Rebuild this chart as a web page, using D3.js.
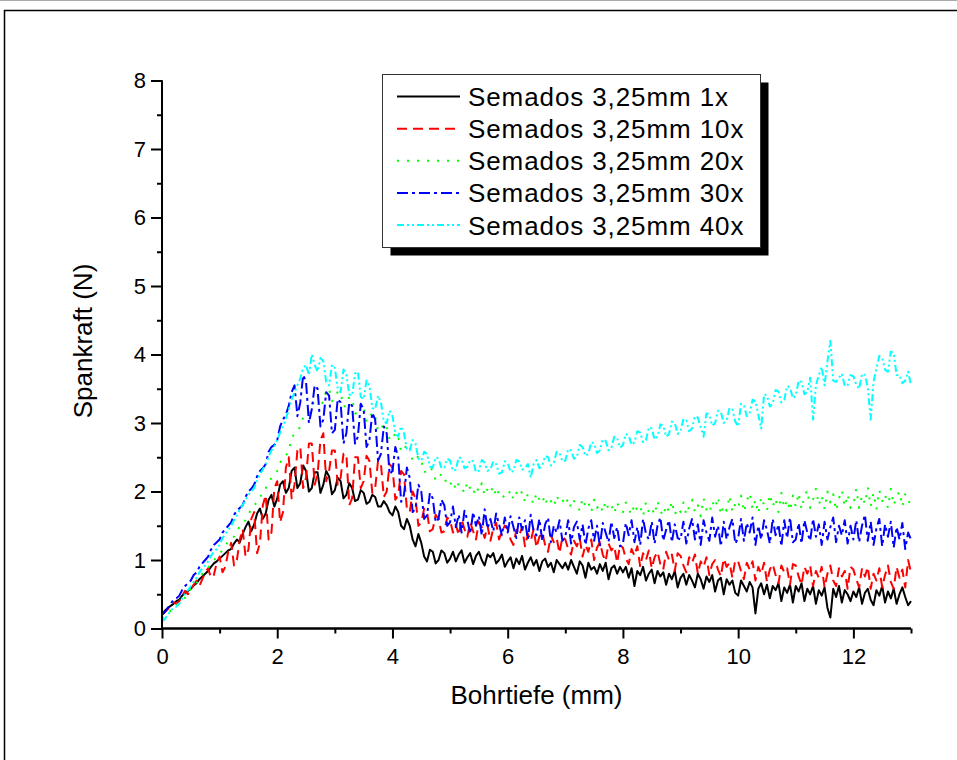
<!DOCTYPE html>
<html>
<head>
<meta charset="utf-8">
<script src="https://cdn.jsdelivr.net/npm/d3@7"></script>
<style>
  html, body { margin: 0; padding: 0; background: #fff; }
  svg { display: block; }
  text { font-family: "Liberation Sans", Arial, sans-serif; fill: #000; }
</style>
</head>
<body>
<svg id="chart" width="957" height="760"></svg>
<script>
// Drilling depth sampling (mm) and cutting force readings (N), one row per millimetre
const depthStep = 0.05;
const depthMax = 13;

const force1x = [
  0.20,0.26,0.30,0.33,0.36,0.40,0.42,0.48,0.52,0.55,0.58,0.63,0.66,0.72,0.76,0.80,0.84,0.90,0.95,0.98,
  1.02,1.06,1.10,1.14,1.16,1.24,1.30,1.26,1.38,1.48,1.56,1.42,1.52,1.68,1.75,1.60,1.68,1.88,1.95,1.78,
  1.90,2.10,2.15,1.98,2.05,2.30,2.35,2.05,2.12,2.38,2.30,2.00,2.05,2.28,2.28,1.98,2.10,2.30,2.22,1.96,
  2.02,2.20,2.15,1.90,1.95,2.12,2.05,1.86,1.88,2.02,1.98,1.82,1.85,1.95,1.92,1.78,1.78,1.86,1.80,1.70,
  1.65,1.78,1.70,1.50,1.45,1.60,1.50,1.30,1.20,1.38,1.25,1.05,0.98,1.15,1.12,0.95,1.00,1.14,1.10,0.96,
  1.02,1.12,0.98,1.08,1.14,0.96,1.04,1.10,0.94,1.06,1.12,1.00,0.92,1.08,1.04,1.10,0.95,1.00,1.08,0.90,
  0.98,1.04,0.88,1.02,0.94,1.06,0.86,0.96,1.04,0.92,1.00,0.84,0.98,1.02,0.90,0.96,0.82,1.00,0.94,0.88,
  0.96,0.86,1.00,0.90,0.80,0.98,0.92,0.74,0.96,0.86,0.90,0.80,0.94,0.84,0.96,0.72,0.88,0.92,0.80,0.90,
  0.82,0.90,0.74,0.88,0.62,0.84,0.78,0.90,0.70,0.80,0.86,0.66,0.84,0.76,0.82,0.64,0.80,0.72,0.84,0.60,
  0.74,0.80,0.64,0.78,0.70,0.60,0.80,0.72,0.58,0.76,0.68,0.78,0.54,0.70,0.74,0.50,0.72,0.64,0.70,0.52,
  0.48,0.70,0.62,0.54,0.68,0.60,0.22,0.58,0.66,0.50,0.64,0.44,0.62,0.56,0.66,0.40,0.60,0.52,0.64,0.38,
  0.62,0.54,0.66,0.40,0.58,0.50,0.62,0.36,0.56,0.48,0.60,0.30,0.16,0.58,0.46,0.62,0.38,0.56,0.50,0.40,
  0.54,0.46,0.60,0.36,0.52,0.58,0.42,0.34,0.56,0.48,0.62,0.38,0.54,0.44,0.58,0.36,0.50,0.60,0.46,0.34,
  0.40
];

const force10x = [
  0.20,0.24,0.28,0.34,0.38,0.36,0.40,0.48,0.55,0.50,0.56,0.64,0.70,0.62,0.72,0.82,0.88,0.74,0.78,0.96,
  1.05,0.82,0.90,1.12,1.25,0.92,1.00,1.30,1.45,1.05,1.15,1.60,1.70,1.10,1.25,1.80,1.95,1.30,1.40,2.05,
  2.15,1.55,1.70,2.35,2.50,1.90,2.10,2.60,2.65,2.05,2.20,2.70,2.70,2.10,2.25,2.75,2.85,2.15,2.30,2.60,
  2.60,2.10,2.20,2.55,2.55,1.80,1.90,2.50,2.50,2.05,2.15,2.52,2.45,1.98,2.05,2.45,2.40,1.92,2.00,2.40,
  2.35,1.88,1.95,2.30,2.25,1.75,1.70,2.00,1.90,1.50,1.55,1.75,1.70,1.42,1.45,1.66,1.60,1.40,1.42,1.62,
  1.58,1.40,1.52,1.36,1.60,1.45,1.34,1.55,1.42,1.30,1.56,1.48,1.32,1.50,1.28,1.46,1.54,1.30,1.42,1.50,
  1.45,1.30,1.22,1.44,1.36,1.48,1.20,1.38,1.28,1.45,1.18,1.34,1.40,1.22,1.12,1.36,1.26,1.32,1.10,1.34,
  1.30,1.16,1.08,1.28,1.20,1.32,1.05,1.22,1.12,1.30,1.00,1.18,1.26,1.08,0.98,1.24,1.14,1.20,0.96,1.22,
  1.18,1.02,0.94,1.16,1.06,1.20,0.90,1.10,1.00,1.14,0.88,1.04,1.12,0.94,0.86,1.12,1.00,1.08,0.84,1.10,
  1.06,0.92,0.82,1.04,0.96,1.08,0.80,0.98,0.90,1.04,0.78,0.94,1.00,0.86,0.76,1.02,0.90,0.96,0.74,1.00,
  0.98,0.84,0.72,0.96,0.86,0.98,0.70,0.90,0.80,0.96,0.68,0.86,0.94,0.78,0.66,0.92,0.82,0.88,0.64,0.94,
  0.92,0.76,0.64,0.90,0.80,0.92,0.62,0.84,0.74,0.90,0.60,0.80,0.92,0.70,0.62,0.88,0.76,0.84,0.58,0.90,
  0.86,0.72,0.60,0.88,0.76,0.90,0.58,0.80,0.70,0.88,0.60,0.78,0.92,0.68,0.58,0.90,0.74,0.86,0.60,1.00,
  0.82
];

const force20x = [
  0.15,0.18,0.22,0.26,0.28,0.34,0.38,0.40,0.45,0.52,0.58,0.60,0.66,0.74,0.80,0.82,0.88,0.96,1.00,1.04,
  1.10,1.14,1.20,1.28,1.32,1.34,1.40,1.50,1.55,1.58,1.65,1.76,1.80,1.84,1.90,2.02,2.05,2.12,2.20,2.24,
  2.30,2.42,2.50,2.52,2.60,2.78,2.85,2.88,2.95,3.08,3.10,3.12,3.20,3.36,3.40,3.28,3.30,3.48,3.50,3.32,
  3.35,3.46,3.45,3.24,3.25,3.38,3.35,3.14,3.15,3.28,3.25,3.02,3.05,3.16,3.10,2.88,2.90,3.00,2.95,2.76,
  2.75,2.86,2.80,2.58,2.60,2.70,2.65,2.44,2.45,2.52,2.45,2.28,2.30,2.36,2.30,2.16,2.18,2.26,2.22,2.08,
  2.10,2.16,2.02,2.12,2.06,1.98,2.14,2.04,1.96,2.08,2.00,2.12,1.94,2.04,1.98,2.08,1.92,2.02,1.96,1.90,
  1.94,2.02,1.88,1.98,1.92,2.00,1.84,1.96,1.90,1.82,1.98,1.88,1.94,1.80,1.92,1.86,1.78,1.94,1.84,1.88,
  1.80,1.90,1.76,1.86,1.82,1.72,1.90,1.78,1.84,1.70,1.88,1.76,1.82,1.70,1.86,1.74,1.80,1.68,1.84,1.72,
  1.70,1.84,1.74,1.66,1.82,1.72,1.78,1.64,1.84,1.70,1.76,1.66,1.86,1.72,1.64,1.80,1.70,1.86,1.66,1.76,
  1.70,1.84,1.66,1.78,1.88,1.70,1.80,1.64,1.90,1.74,1.68,1.86,1.76,1.92,1.66,1.80,1.72,1.94,1.70,1.82,
  1.76,1.94,1.70,1.86,1.98,1.74,1.88,1.68,1.92,1.80,1.72,1.96,1.78,1.90,1.70,1.98,1.76,1.88,1.72,1.94,
  1.78,1.98,1.74,1.92,2.02,1.76,1.88,2.04,1.80,1.94,1.74,2.00,1.84,1.96,1.72,1.90,2.02,1.78,1.96,1.76,
  1.80,2.04,1.76,1.94,1.82,2.06,1.78,1.98,1.74,2.02,1.86,1.96,1.76,2.04,1.80,1.92,2.00,1.78,1.96,1.84,
  1.86
];

const force30x = [
  0.20,0.24,0.30,0.36,0.42,0.44,0.48,0.56,0.62,0.66,0.70,0.78,0.82,0.90,0.95,1.00,1.05,1.15,1.22,1.26,
  1.30,1.40,1.45,1.50,1.55,1.66,1.72,1.76,1.80,1.92,2.00,2.04,2.10,2.22,2.30,2.34,2.40,2.58,2.65,2.68,
  2.75,2.95,3.05,3.12,3.25,3.45,3.55,3.10,3.30,3.70,3.60,3.00,3.20,3.55,3.50,2.95,3.05,3.45,3.40,2.85,
  2.90,3.35,3.30,2.70,2.85,3.30,3.25,2.70,2.80,3.28,3.20,2.65,2.75,3.15,3.05,2.45,2.55,2.95,2.85,2.25,
  2.30,2.65,2.50,1.85,1.95,2.35,2.20,1.70,1.75,2.10,2.00,1.60,1.65,1.98,1.90,1.55,1.60,1.88,1.80,1.50,
  1.55,1.78,1.48,1.66,1.40,1.72,1.58,1.38,1.70,1.50,1.64,1.36,1.74,1.46,1.60,1.42,1.68,1.52,1.36,1.62,
  1.40,1.64,1.48,1.32,1.62,1.44,1.58,1.30,1.66,1.42,1.36,1.60,1.28,1.52,1.62,1.26,1.50,1.40,1.58,1.28,
  1.34,1.58,1.24,1.48,1.56,1.30,1.52,1.22,1.46,1.58,1.28,1.50,1.20,1.54,1.40,1.26,1.56,1.32,1.48,1.20,
  1.24,1.54,1.36,1.58,1.26,1.48,1.22,1.60,1.38,1.30,1.56,1.24,1.50,1.62,1.28,1.44,1.58,1.26,1.52,1.32,
  1.30,1.56,1.24,1.46,1.60,1.30,1.52,1.22,1.58,1.40,1.28,1.62,1.34,1.50,1.20,1.56,1.30,1.48,1.60,1.24,
  1.32,1.60,1.28,1.54,1.40,1.62,1.22,1.50,1.30,1.58,1.44,1.24,1.60,1.36,1.52,1.20,1.58,1.32,1.62,1.26,
  1.30,1.54,1.24,1.58,1.40,1.28,1.60,1.34,1.52,1.22,1.56,1.30,1.48,1.62,1.26,1.50,1.36,1.58,1.24,1.50,
  1.30,1.58,1.26,1.50,1.66,1.28,1.56,1.22,1.46,1.60,1.20,1.52,1.34,1.56,1.18,1.48,1.30,1.54,1.16,1.40,
  1.30
];

const force40x = [
  0.10,0.14,0.20,0.26,0.30,0.32,0.36,0.44,0.50,0.56,0.62,0.68,0.74,0.82,0.88,0.92,0.98,1.06,1.12,1.16,
  1.22,1.32,1.38,1.44,1.50,1.58,1.65,1.74,1.80,1.88,1.95,2.00,2.05,2.16,2.25,2.32,2.40,2.50,2.60,2.66,
  2.75,2.86,2.95,3.06,3.20,3.34,3.45,3.55,3.65,3.80,3.85,3.70,4.00,3.85,3.75,3.95,3.90,3.60,3.55,3.85,
  3.80,3.50,3.45,3.78,3.70,3.42,3.40,3.72,3.75,3.38,3.35,3.62,3.55,3.22,3.20,3.40,3.30,3.02,3.00,3.18,
  3.10,2.86,2.80,2.95,2.85,2.62,2.60,2.75,2.70,2.48,2.45,2.58,2.55,2.36,2.35,2.50,2.48,2.34,2.35,2.48,
  2.45,2.30,2.32,2.50,2.48,2.34,2.36,2.46,2.44,2.28,2.30,2.46,2.42,2.30,2.32,2.44,2.40,2.26,2.28,2.44,
  2.42,2.28,2.30,2.46,2.44,2.32,2.34,2.40,2.20,2.40,2.46,2.34,2.38,2.52,2.50,2.38,2.42,2.58,2.56,2.44,
  2.45,2.62,2.60,2.48,2.50,2.68,2.65,2.52,2.55,2.72,2.70,2.56,2.60,2.76,2.74,2.60,2.64,2.80,2.78,2.64,
  2.68,2.84,2.82,2.68,2.72,2.88,2.86,2.72,2.75,2.94,2.92,2.76,2.80,2.98,2.96,2.80,2.84,3.02,3.00,2.84,
  2.88,3.06,3.04,2.88,2.92,3.10,3.08,2.94,2.80,3.14,3.12,2.96,3.00,3.18,3.16,3.00,3.04,3.22,3.20,3.02,
  2.95,3.28,3.26,3.10,3.14,3.34,3.32,3.12,2.92,3.42,3.40,3.24,3.28,3.48,3.46,3.30,3.34,3.54,3.52,3.36,
  3.40,3.62,3.60,3.42,3.45,3.66,3.05,3.55,3.70,3.82,3.55,3.90,4.20,3.62,3.60,3.66,3.72,3.54,3.55,3.70,
  3.68,3.56,3.50,3.72,3.70,3.52,3.05,3.60,3.80,3.98,3.95,3.78,3.75,4.04,4.02,3.70,3.70,3.58,3.62,3.75,
  3.55
];

const seriesNames = [
  "Semados 3,25mm 1x",
  "Semados 3,25mm 10x",
  "Semados 3,25mm 20x",
  "Semados 3,25mm 30x",
  "Semados 3,25mm 40x"
];
const seriesValues = [force1x, force10x, force20x, force30x, force40x];
const seriesColors = ["#000000", "#ff0000", "#00ff00", "#0000ff", "#00ffff"];
const seriesDashes = ["none", "10,6", "2,8", "11,4,3,4", "7,3,2,3,2,3"];

const xMajorTicks = [0, 2, 4, 6, 8, 10, 12];
const xMinorTicks = [1, 3, 5, 7, 9, 11, 13];
const yMajorTicks = [0, 1, 2, 3, 4, 5, 6, 7, 8];
const yMinorTicks = [0.5, 1.5, 2.5, 3.5, 4.5, 5.5, 6.5, 7.5];

const xLabel = "Bohrtiefe (mm)";
const yLabel = "Spankraft (N)";

// ---- layout ----
const svg = d3.select("#chart");
const plot = { left: 162, right: 911, top: 80.5, bottom: 628.5 };

const x = d3.scaleLinear().domain([0, depthMax]).range([plot.left, plot.right]);
const y = d3.scaleLinear().domain([0, 8]).range([plot.bottom, plot.top]);

// page frame
svg.append("line").attr("x1", 0).attr("x2", 957).attr("y1", 0.5).attr("y2", 0.5)
  .attr("stroke", "#aaa").attr("stroke-width", 1);
svg.append("path")
  .attr("d", "M957,10.5 H4.5 V760")
  .attr("fill", "none").attr("stroke", "#000").attr("stroke-width", 1.5);

// clip for the data lines
svg.append("clipPath").attr("id", "plotClip")
  .append("rect")
  .attr("x", plot.left).attr("y", plot.top - 2)
  .attr("width", plot.right - plot.left + 2).attr("height", plot.bottom - plot.top + 2);

const depths = force1x.map((_, i) => +(i * depthStep).toFixed(2));

const line = d3.line()
  .x((d, i) => x(depths[i]))
  .y(d => y(d));

const lines = svg.append("g").attr("clip-path", "url(#plotClip)");
seriesValues.forEach((vals, k) => {
  lines.append("path")
    .datum(vals)
    .attr("d", line)
    .attr("fill", "none")
    .attr("stroke", seriesColors[k])
    .attr("stroke-width", 2)
    .attr("stroke-dasharray", seriesDashes[k])
    .attr("stroke-linejoin", "round");
});

// ---- axes ----
const axisFont = 22;

const xAxisG = svg.append("g").attr("transform", `translate(0,${plot.bottom})`);
xAxisG.call(d3.axisBottom(x).tickValues(xMajorTicks).tickSize(10).tickPadding(10)
  .tickFormat(d3.format("d")));
const xMinor = svg.append("g").attr("transform", `translate(0,${plot.bottom})`);
xMinor.call(d3.axisBottom(x).tickValues(xMinorTicks).tickSize(5).tickFormat(""));

const yAxisG = svg.append("g").attr("transform", `translate(${plot.left},0)`);
yAxisG.call(d3.axisLeft(y).tickValues(yMajorTicks).tickSize(11).tickPadding(5)
  .tickFormat(d3.format("d")));
const yMinor = svg.append("g").attr("transform", `translate(${plot.left},0)`);
yMinor.call(d3.axisLeft(y).tickValues(yMinorTicks).tickSize(5).tickFormat(""));

[xAxisG, xMinor, yAxisG, yMinor].forEach(g => {
  g.select(".domain").attr("stroke", "#000").attr("stroke-width", 2)
    .attr("d", g === xAxisG || g === xMinor
      ? `M${plot.left - 1},0H${plot.right}`
      : `M0,${plot.top}V${plot.bottom + 1}`);
  g.selectAll(".tick line").attr("stroke", "#000").attr("stroke-width", 2);
  g.selectAll(".tick text")
    .style("font-family", '"Liberation Sans", Arial, sans-serif')
    .style("font-size", axisFont + "px")
    .attr("fill", "#000");
});

// axis titles
svg.append("text")
  .attr("x", (plot.left + plot.right) / 2)
  .attr("y", 704)
  .attr("text-anchor", "middle")
  .style("font-size", "26px")
  .text(xLabel);

svg.append("text")
  .attr("transform", "translate(92,341) rotate(-90)")
  .attr("text-anchor", "middle")
  .style("font-size", "26px")
  .text(yLabel);

// ---- legend ----
const legend = { x: 382.5, y: 74.5, w: 378, h: 173, shadow: 8 };
svg.append("rect")
  .attr("x", legend.x + legend.shadow).attr("y", legend.y + legend.shadow)
  .attr("width", legend.w).attr("height", legend.h)
  .attr("fill", "#000");
svg.append("rect")
  .attr("x", legend.x).attr("y", legend.y)
  .attr("width", legend.w).attr("height", legend.h)
  .attr("fill", "#fff").attr("stroke", "#333").attr("stroke-width", 1);

const rowY = d3.scaleLinear().domain([0, 4]).range([96.5, 225]);
seriesNames.forEach((name, k) => {
  const cy = rowY(k);
  svg.append("line")
    .attr("x1", 397).attr("x2", 460)
    .attr("y1", cy).attr("y2", cy)
    .attr("stroke", seriesColors[k])
    .attr("stroke-width", 2)
    .attr("stroke-dasharray", seriesDashes[k]);
  svg.append("text")
    .attr("x", 468).attr("y", cy + 9.5)
    .style("font-size", "26px")
    .style("letter-spacing", "0.9px")
    .text(name);
});
</script>
</body>
</html>
